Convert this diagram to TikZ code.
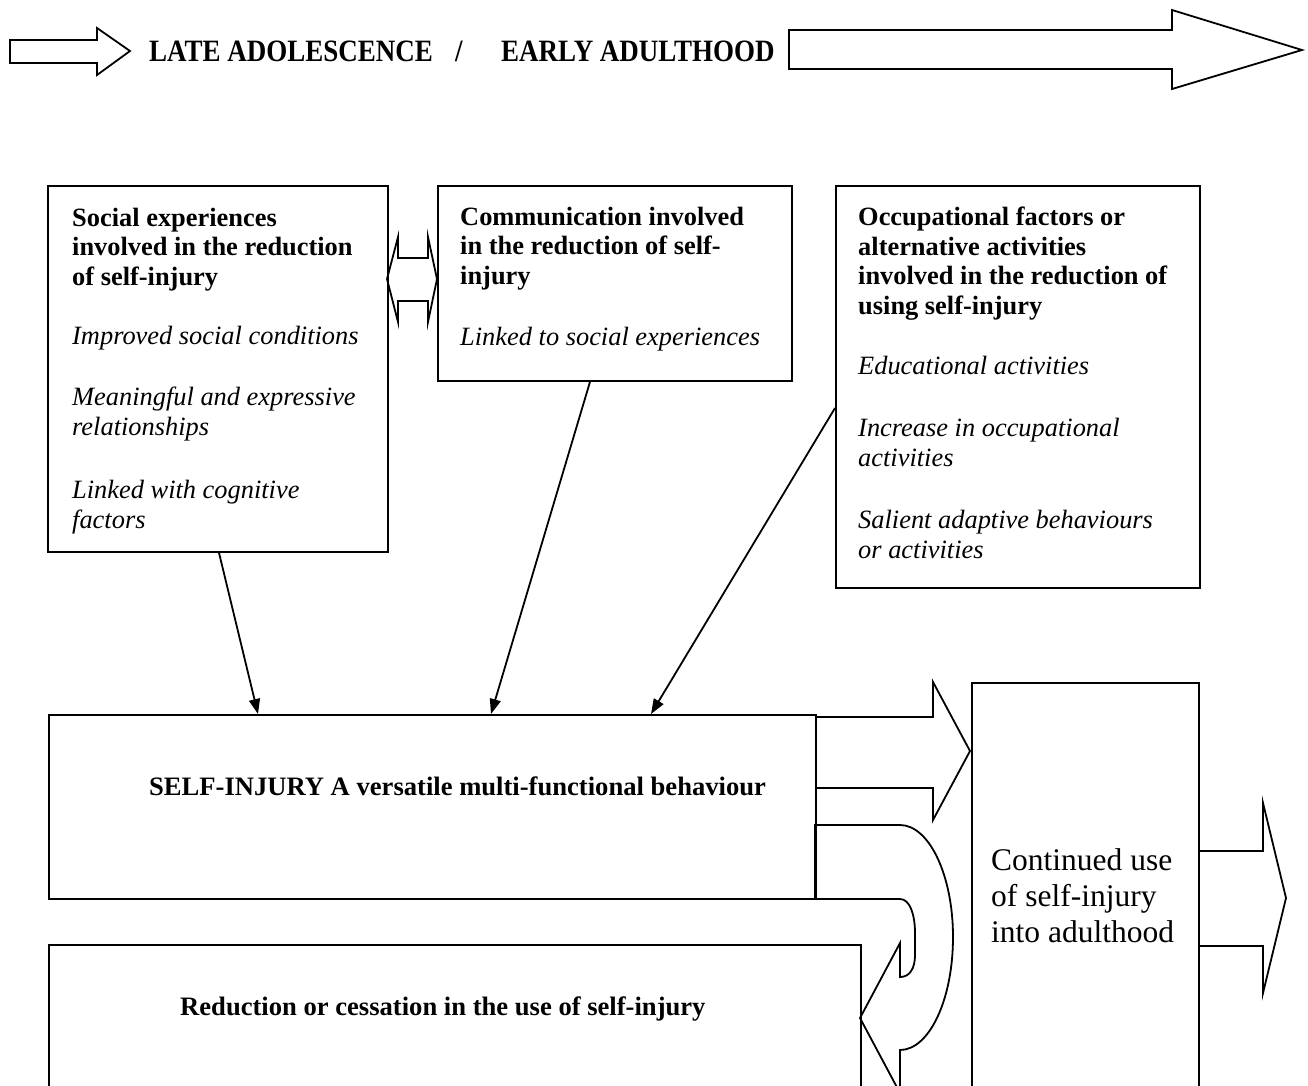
\documentclass[tikz,border=0pt]{standalone}
\usepackage{fontspec}
\usepackage{graphicx}
\setmainfont{Liberation Serif}
\usetikzlibrary{arrows.meta,calc}

\begin{document}
\begin{tikzpicture}[x=1pt,y=-1pt,
  box/.style={draw, line width=1.8pt, anchor=north west, inner sep=0pt},
  blockarrow/.style={draw, line width=1.8pt, fill=white, line join=miter},
  lbl/.style={anchor=base west, inner sep=0pt, align=left},
  hd/.style={lbl, font=\fontsize{26.4}{29.5}\selectfont\bfseries},
  it/.style={lbl, font=\fontsize{26.4}{30}\selectfont\itshape},
  ttl/.style={lbl, font=\fontsize{27}{30}\selectfont\bfseries},
  link/.style={line width=1.8pt, -{Triangle[length=15pt,width=11pt]}}
]
\useasboundingbox (0,0) rectangle (1308,1085);
\clip (0,0) rectangle (1308,1085);

% ---- time line across the top
\draw[blockarrow] (10,40) -- (97,40) -- (97,28) -- (130,51) -- (97,75) -- (97,63) -- (10,63) -- cycle;
\node[ttl] (late) at (149,61) {\scalebox{1}[1.15]{LATE ADOLESCENCE}};
\node[ttl] (slash) at (455,61) {\scalebox{1}[1.15]{/}};
\node[ttl] (early) at (501,61) {\scalebox{1}[1.15]{EARLY ADULTHOOD}};
\draw[blockarrow] (789,30) -- (1172,30) -- (1172,10) -- (1302,50) -- (1172,89) -- (1172,69) -- (789,69) -- cycle;

% ---- block arrows
\draw[blockarrow] (387,279) -- (398,237) -- (398,258) -- (428,258) -- (428,237) -- (437,279)
  -- (428,322) -- (428,301) -- (398,301) -- (398,322) -- cycle;
\draw[blockarrow] (815,717) -- (933,717) -- (933,682) -- (970,751) -- (933,820) -- (933,788) -- (815,788);
\draw[blockarrow] (1198,851) -- (1263,851) -- (1263,803) -- (1286,898) -- (1263,993) -- (1263,946) -- (1198,946);
% U-turn arrow from the behaviour box down to the reduction box
\draw[blockarrow] (815,825) -- (900,825)
  .. controls (929,825) and (953,875) .. (953,937)
  .. controls (953,1000) and (929,1050) .. (900,1050)
  -- (900,1093) -- (860,1018) -- (900,943) -- (900,977)
  .. controls (910,977) and (915,968) .. (915,955)
  -- (915,933)
  .. controls (915,915) and (910,899) .. (900,899)
  -- (815,899) -- cycle;

% ---- boxes
\node[box, minimum width=340pt, minimum height=366pt] (soc) at (47,185) {};
\node[box, minimum width=354pt, minimum height=195pt] (com) at (437,185) {};
\node[box, minimum width=364pt, minimum height=402pt] (occ) at (835,185) {};
\node[box, minimum width=767pt, minimum height=184pt] (self) at (48,714) {};
\node[box, minimum width=812pt, minimum height=160pt] (red) at (48,944) {};
\node[box, minimum width=227pt, minimum height=420pt] (cont) at (971,682) {};

% ---- box texts (nodes sit on the baseline of their last line)
\node[hd] (socT) at (72,285) {Social experiences\\involved in the reduction\\of self-injury};
\node[it] (soc1) at (72,344) {Improved social conditions};
\node[it] (soc2) at (72,435) {Meaningful and expressive\\relationships};
\node[it] (soc3) at (72,528) {Linked with cognitive\\factors};

\node[hd] (comT) at (460,284) {Communication involved\\in the reduction of self-\\injury};
\node[it] (com1) at (460,345) {Linked to social experiences};

\node[hd] (occT) at (858,314) {Occupational factors or\\alternative activities\\involved in the reduction of\\using self-injury};
\node[it] (occ1) at (858,374) {Educational activities};
\node[it] (occ2) at (858,466) {Increase in occupational\\activities};
\node[it] (occ3) at (858,558) {Salient adaptive behaviours\\or activities};

\node[lbl, font=\fontsize{26.6}{30}\selectfont\bfseries] (selfT) at (149,795)
  {SELF-INJURY A versatile multi-functional behaviour};
\node[lbl, font=\fontsize{26.6}{30}\selectfont\bfseries] (redT) at (180,1015)
  {Reduction or cessation in the use of self-injury};
\node[lbl, font=\fontsize{31.5}{36}\selectfont] (contT) at (991,942)
  {Continued use\\of self-injury\\into adulthood};

% ---- influences on the behaviour
\draw[link] ($(soc.south west)+(172,0)$) -- ($(self.north west)+(210,0)$);
\draw[link] ($(com.south west)+(153,0)$) -- ($(self.north west)+(443,0)$);
\draw[link] ($(occ.north west)+(0,223)$) -- ($(self.north west)+(603,0)$);
\end{tikzpicture}
\end{document}
